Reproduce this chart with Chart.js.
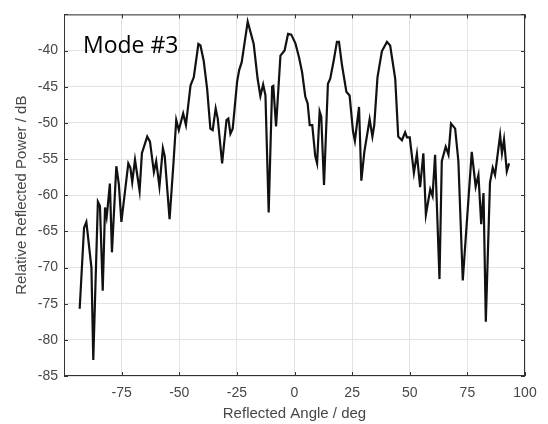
<!DOCTYPE html>
<html>
<head>
<meta charset="utf-8">
<script src="https://cdn.jsdelivr.net/npm/chart.js@4/dist/chart.umd.min.js"></script>
<style>
  html, body { margin: 0; padding: 0; background: #fff; }
  #wrap { position: relative; width: 548px; height: 424px; }
</style>
</head>
<body>
<div id="wrap"><canvas id="modeChart"></canvas></div>
<script>
'use strict';

// --- data ---
const ANGLES = [
  -93.2, -91.3, -90.3, -88.1, -87.3, -85.3, -84.4, -83.2, -82.2, -81.5,
  -81.1, -80.1, -79.2, -77.3, -76.2, -75.1, -72.1, -71.2, -70.4, -69.2,
  -67.2, -66.2, -63.9, -62.7, -61.0, -60.0, -58.6, -57.1, -56.3, -54.2,
  -52.6, -51.3, -50.2, -48.3, -47.1, -45.1, -43.7, -41.7, -40.8, -39.4,
  -37.9, -36.5, -35.5, -34.2, -33.3, -31.4, -29.5, -28.7, -27.8, -26.8,
  -24.9, -24.0, -22.9, -20.3, -17.7, -16.0, -14.8, -13.6, -12.6, -11.2,
  -9.7, -9.2, -8.0, -6.1, -4.3, -2.8, -1.4, 0.4, 2.0, 3.3,
  4.7, 5.7, 6.6, 7.7, 9.0, 9.8, 10.9, 11.6, 12.8, 14.5,
  15.5, 17.0, 18.4, 19.3, 20.6, 22.5, 23.9, 25.4, 26.2, 28.0,
  29.0, 30.3, 32.6, 33.8, 34.6, 36.0, 37.9, 40.1, 41.5, 43.7,
  45.0, 46.6, 48.0, 48.8, 50.0, 51.8, 53.1, 54.5, 55.9, 57.0,
  58.9, 59.9, 61.0, 62.9, 63.9, 65.6, 66.8, 67.9, 69.7, 71.1,
  73.0, 76.9, 78.6, 79.8, 81.0, 82.0, 83.0, 84.8, 86.0, 87.0,
  89.2, 90.0, 90.9, 92.1, 93.1
];
const POWER_DB = [
  -75.7, -64.5, -63.7, -70.0, -82.8, -60.9, -61.5, -73.2, -61.7, -63.0,
  -61.8, -58.4, -67.9, -56.0, -58.5, -63.7, -55.6, -56.2, -58.2, -55.1,
  -59.4, -54.2, -51.9, -52.6, -56.8, -55.3, -58.8, -53.5, -54.6, -63.3,
  -56.0, -49.6, -51.0, -48.7, -50.3, -44.8, -43.7, -39.1, -39.3, -41.4,
  -45.3, -50.8, -51.0, -48.0, -49.4, -55.6, -49.6, -49.4, -51.5, -50.8,
  -44.3, -42.7, -41.6, -36.0, -39.1, -43.9, -46.3, -44.7, -46.2, -62.4,
  -45.0, -44.9, -50.5, -40.7, -40.0, -37.7, -37.8, -39.0, -41.0, -43.0,
  -46.4, -47.3, -50.3, -50.3, -54.6, -55.6, -48.4, -49.1, -58.6, -44.6,
  -43.9, -41.4, -38.8, -38.8, -42.0, -45.7, -46.2, -51.2, -52.5, -47.8,
  -58.0, -54.0, -49.5, -51.9, -50.3, -43.7, -40.1, -38.8, -39.3, -43.9,
  -51.9, -52.4, -51.3, -52.0, -52.0, -56.9, -54.3, -58.9, -54.2, -62.7,
  -59.2, -60.1, -54.4, -71.6, -55.3, -53.3, -54.4, -50.1, -50.8, -55.3,
  -71.8, -54.0, -58.8, -57.2, -64.0, -59.7, -77.5, -58.3, -56.2, -57.2,
  -51.7, -54.2, -52.3, -56.7, -55.6
];
const X_TICKS = [-100, -75, -50, -25, 0, 25, 50, 75, 100];
const Y_TICKS = [-85, -80, -75, -70, -65, -60, -55, -50, -45, -40, -35];
const X_HIDDEN = [-100];
const Y_HIDDEN = [-35];
const LABEL = 'Mode #3';

const points = ANGLES.map((a, i) => ({ x: a, y: POWER_DB[i] }));

// matlab-style box with inward ticks on all four sides, plus the in-plot label
const boxAndLabel = {
  id: 'boxAndLabel',
  afterDraw(chart) {
    const { ctx, chartArea: a, scales } = chart;
    const tl = 4;
    ctx.save();
    ctx.strokeStyle = '#333';
    ctx.lineWidth = 1;
    ctx.strokeRect(a.left + 0.5, a.top + 0.5, a.right - a.left - 1, a.bottom - a.top - 1);
    ctx.beginPath();
    X_TICKS.forEach(v => {
      const px = Math.round(scales.x.getPixelForValue(v)) + 0.5;
      ctx.moveTo(px, a.bottom); ctx.lineTo(px, a.bottom - tl);
      ctx.moveTo(px, a.top); ctx.lineTo(px, a.top + tl);
    });
    Y_TICKS.forEach(v => {
      const py = Math.round(scales.y.getPixelForValue(v)) + 0.5;
      ctx.moveTo(a.left, py); ctx.lineTo(a.left + tl, py);
      ctx.moveTo(a.right, py); ctx.lineTo(a.right - tl, py);
    });
    ctx.stroke();
    ctx.fillStyle = '#000';
    ctx.font = '23px "Open Sans", sans-serif';
    ctx.textBaseline = 'alphabetic';
    ctx.fillText(LABEL, a.left + 19, a.top + 39);
    ctx.restore();
  },
};

const TICK_FONT = { family: '"Liberation Sans", Arial, sans-serif', size: 14 };
const TITLE_FONT = { family: '"Liberation Sans", Arial, sans-serif', size: 15 };

new Chart(document.getElementById('modeChart').getContext('2d'), {
  type: 'scatter',
  data: {
    datasets: [{
      data: points,
      showLine: true,
      borderColor: '#111',
      borderWidth: 2.2,
      pointRadius: 0,
      tension: 0,
    }],
  },
  options: {
    responsive: true,
    maintainAspectRatio: false,
    animation: false,
    layout: { padding: { top: 12, right: 23, left: 0, bottom: 0 } },
    plugins: { legend: { display: false }, tooltip: { enabled: false } },
    scales: {
      x: {
        type: 'linear',
        min: -100,
        max: 100,
        afterBuildTicks: s => { s.ticks = X_TICKS.map(v => ({ value: v })); },
        afterFit: s => { s.height = 48; },
        grid: { color: '#e3e3e3', drawTicks: false },
        border: { display: false },
        ticks: {
          padding: 9,
          color: '#474747',
          font: TICK_FONT,
          maxRotation: 0,
          callback: v => (X_HIDDEN.includes(v) ? '' : v),
        },
        title: {
          display: true,
          text: 'Reflected Angle / deg',
          color: '#474747',
          font: TITLE_FONT,
          padding: { top: 0, bottom: 1 },
        },
      },
      y: {
        type: 'linear',
        min: -85,
        max: -35,
        afterBuildTicks: s => { s.ticks = Y_TICKS.map(v => ({ value: v })); },
        afterFit: s => { s.width = 64; },
        grid: { color: '#e3e3e3', drawTicks: false },
        border: { display: false },
        ticks: {
          padding: 6,
          color: '#474747',
          font: TICK_FONT,
          callback: v => (Y_HIDDEN.includes(v) ? '' : v),
        },
        title: {
          display: true,
          text: 'Relative Reflected Power / dB',
          color: '#474747',
          font: TITLE_FONT,
          padding: { top: 13, bottom: 0 },
        },
      },
    },
  },
  plugins: [boxAndLabel],
});
</script>
</body>
</html>
